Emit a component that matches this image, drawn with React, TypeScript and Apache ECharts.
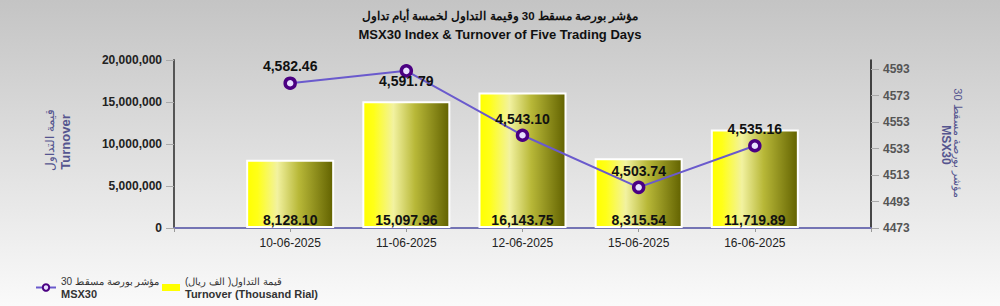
import React, { useEffect, useRef } from "react";
import * as echarts from "echarts";

const dates = ["10-06-2025", "11-06-2025", "12-06-2025", "15-06-2025", "16-06-2025"];
const turnoverThousand = [8128.1, 15097.96, 16143.75, 8315.54, 11719.89];
const msx30 = [4582.46, 4591.79, 4543.1, 4503.74, 4535.16];
const msxLabelPos = ["top", "bottom", "top", "top", "top"];
const rightTicks = [4473, 4493, 4513, 4533, 4553, 4573, 4593];

const titleAr = "مؤشر بورصة مسقط 30 وقيمة التداول لخمسة أيام تداول";
const titleEn = "MSX30 Index & Turnover of Five Trading Days";
const leftNameAr = "قيمة التداول";
const leftNameEn = "Turnover";
const rightNameAr = "مؤشر بورصة مسقط 30";
const rightNameEn = "MSX30";
const legendText: Record<string, [string, string]> = {
  MSX30: ["مؤشر بورصة مسقط 30", "MSX30"],
  Turnover: ["قيمة التداول( الف ريال)", "Turnover (Thousand Rial)"],
};

const FONT = "'Liberation Sans', Arial, sans-serif";
const fmt2 = (v: number) =>
  v.toLocaleString("en-US", { minimumFractionDigits: 2, maximumFractionDigits: 2 });

export default function App() {
  const ref = useRef<HTMLDivElement>(null);
  useEffect(() => {
    document.body.style.margin = "0";
    const chart = echarts.init(ref.current!, undefined, { renderer: "svg" });
    const cats = ["", ...dates, ""];
    const barData: any[] = [null, ...turnoverThousand.map((v) => ({ value: v * 1000, raw: v })), null];
    const lineData: any[] = [
      null,
      ...msx30.map((v, i) => ({
        value: v,
        label:
          msxLabelPos[i] === "bottom"
            ? { position: "bottom", distance: 0, offset: [0, -4] }
            : { position: "top" },
      })),
      null,
    ];
    const nameColor = "#55558f";
    const legendBase = {
      top: 271,
      orient: "horizontal",
      itemWidth: 20,
      itemHeight: 8,
      itemGap: 5,
      formatter: (name: string) => `{a|${legendText[name][0]}}\n{b|${legendText[name][1]}}`,
      textStyle: {
        rich: {
          a: { fontSize: 10, color: "#333", fontFamily: FONT, lineHeight: 13 },
          b: { fontSize: 11, fontWeight: "bold", color: "#333", fontFamily: FONT, lineHeight: 13 },
        },
      },
    };
    chart.setOption({
      animation: false,
      textStyle: { fontFamily: FONT },
      title: [
        {
          text: titleAr,
          left: "center",
          top: 5,
          textStyle: { fontSize: 11.5, fontWeight: "bold", color: "#111", fontFamily: FONT },
        },
        {
          text: titleEn,
          left: "center",
          top: 23,
          textStyle: { fontSize: 13, fontWeight: "bold", color: "#111", fontFamily: FONT },
        },
      ],
      grid: { left: 174, right: 129, top: 60, bottom: 78, containLabel: false },
      legend: [
        { ...legendBase, left: 30, data: [{ name: "MSX30" }] },
        {
          ...legendBase,
          left: 157,
          itemWidth: 18,
          itemHeight: 7,
          data: [{ name: "Turnover", icon: "rect", itemStyle: { color: "#ffff00", borderWidth: 0 } }],
        },
      ],
      xAxis: {
        type: "category",
        data: cats,
        boundaryGap: false,
        axisLine: { lineStyle: { color: "#7474b4", width: 2 } },
        axisTick: { show: true, length: 4, lineStyle: { color: "#999" } },
        axisLabel: { fontSize: 12, color: "#222", margin: 9, interval: 0 },
      },
      yAxis: [
        {
          type: "value",
          min: 0,
          max: 20000000,
          interval: 5000000,
          splitLine: { show: false },
          axisLine: { show: true, lineStyle: { color: "#555", width: 2 } },
          axisTick: { show: true, length: 8, lineStyle: { color: "#aaa" } },
          axisLabel: {
            fontSize: 12,
            fontWeight: "bold",
            color: "#222",
            margin: 12,
            formatter: (v: number) => v.toLocaleString("en-US"),
          },
        },
        {
          type: "value",
          min: 4473,
          max: 4600,
          position: "right",
          splitLine: { show: false },
          axisLine: { show: true, lineStyle: { color: "#111", width: 1.5 } },
          axisTick: { show: true, length: 8, lineStyle: { color: "#aaa" }, customValues: rightTicks },
          axisLabel: {
            fontSize: 12,
            fontWeight: "bold",
            color: "#555",
            margin: 12,
            customValues: rightTicks,
            formatter: (v: number) => String(v),
          },
        },
      ],
      graphic: [
        {
          type: "text",
          x: 50,
          y: 140,
          rotation: Math.PI / 2,
          style: {
            text: leftNameAr,
            fontSize: 12,
            fill: nameColor,
            align: "center",
            verticalAlign: "middle",
            fontFamily: FONT,
          },
        },
        {
          type: "text",
          x: 65,
          y: 142,
          rotation: Math.PI / 2,
          style: {
            text: leftNameEn,
            fontSize: 13,
            fontWeight: "bold",
            fill: nameColor,
            align: "center",
            verticalAlign: "middle",
            fontFamily: FONT,
          },
        },
        {
          type: "text",
          x: 958,
          y: 143,
          rotation: -Math.PI / 2,
          style: {
            text: rightNameAr,
            fontSize: 11,
            fill: nameColor,
            align: "center",
            verticalAlign: "middle",
            fontFamily: FONT,
          },
        },
        {
          type: "text",
          x: 946,
          y: 145,
          rotation: -Math.PI / 2,
          style: {
            text: rightNameEn,
            fontSize: 12,
            fontWeight: "bold",
            fill: nameColor,
            align: "center",
            verticalAlign: "middle",
            fontFamily: FONT,
          },
        },
      ],
      series: [
        {
          name: "Turnover",
          type: "bar",
          yAxisIndex: 0,
          data: barData,
          barWidth: 88,
          itemStyle: {
            borderColor: "#ffffff",
            borderWidth: 2,
            color: new echarts.graphic.LinearGradient(0, 0, 1, 0, [
              { offset: 0, color: "#ffff00" },
              { offset: 0.12, color: "#ffff18" },
              { offset: 0.35, color: "#f2f2a0" },
              { offset: 0.6, color: "#b8b838" },
              { offset: 1, color: "#626200" },
            ]),
          },
          label: {
            show: true,
            position: "insideBottom",
            distance: 1,
            fontSize: 14,
            fontWeight: "bold",
            color: "#111",
            fontFamily: FONT,
            formatter: (p: any) => fmt2(p.data.raw),
          },
          z: 1,
        },
        {
          name: "MSX30",
          type: "line",
          yAxisIndex: 1,
          data: lineData,
          symbol: "circle",
          symbolSize: 10,
          lineStyle: { color: "#6a5acd", width: 2 },
          itemStyle: { color: "#e8e0ff", borderColor: "#4b0082", borderWidth: 3.5 },
          label: {
            show: true,
            distance: 3,
            fontSize: 14,
            fontWeight: "bold",
            color: "#111",
            fontFamily: FONT,
            formatter: (p: any) => fmt2(p.value),
          },
          z: 3,
        },
      ],
    });
    return () => chart.dispose();
  }, []);
  return (
    <div
      ref={ref}
      style={{
        width: 1000,
        height: 306,
        background: "linear-gradient(#c4c4c4, #fafafa)",
      }}
    />
  );
}
